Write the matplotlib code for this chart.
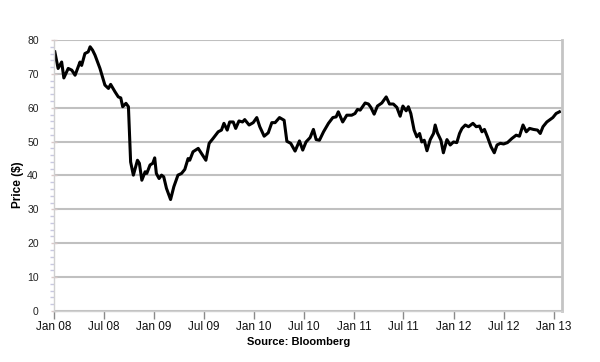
import matplotlib
matplotlib.use('Agg')
import matplotlib.pyplot as plt
import matplotlib.dates as mdates
from matplotlib.ticker import MultipleLocator
import pandas as pd

# weekly-ish closing prices
dates = ['2008-01-04', '2008-01-16', '2008-01-29', '2008-02-06', '2008-02-22', '2008-03-06',
	'2008-03-18', '2008-04-05', '2008-04-11', '2008-04-23', '2008-05-05', '2008-05-12',
	'2008-05-21', '2008-05-30', '2008-06-17', '2008-07-05', '2008-07-18', '2008-07-26',
	'2008-08-11', '2008-08-23', '2008-09-01', '2008-09-08', '2008-09-20', '2008-09-29',
	'2008-10-07', '2008-10-17', '2008-11-01', '2008-11-08', '2008-11-17', '2008-11-29',
	'2008-12-05', '2008-12-17', '2008-12-27', '2009-01-03', '2009-01-09', '2009-01-19',
	'2009-01-28', '2009-02-05', '2009-02-15', '2009-03-02', '2009-03-14', '2009-03-29',
	'2009-04-11', '2009-04-23', '2009-05-05', '2009-05-11', '2009-05-23', '2009-06-11',
	'2009-06-23', '2009-07-09', '2009-07-21', '2009-08-04', '2009-08-23', '2009-09-04',
	'2009-09-13', '2009-09-25', '2009-10-04', '2009-10-17', '2009-10-26', '2009-11-07',
	'2009-11-20', '2009-11-28', '2009-12-14', '2009-12-29', '2010-01-11', '2010-01-22',
	'2010-02-07', '2010-02-22', '2010-03-07', '2010-03-19', '2010-04-04', '2010-04-21',
	'2010-05-01', '2010-05-15', '2010-05-31', '2010-06-16', '2010-06-28', '2010-07-10',
	'2010-07-25', '2010-08-06', '2010-08-16', '2010-08-28', '2010-09-12', '2010-09-30',
	'2010-10-16', '2010-10-28', '2010-11-05', '2010-11-21', '2010-12-06', '2010-12-24',
	'2011-01-05', '2011-01-14', '2011-01-24', '2011-02-11', '2011-02-23', '2011-03-04',
	'2011-03-16', '2011-03-28', '2011-04-13', '2011-04-29', '2011-05-11', '2011-05-25',
	'2011-06-07', '2011-06-19', '2011-06-29', '2011-07-11', '2011-07-19', '2011-07-28',
	'2011-08-09', '2011-08-19', '2011-08-29', '2011-09-06', '2011-09-15', '2011-09-25',
	'2011-10-07', '2011-10-19', '2011-10-25', '2011-11-02', '2011-11-15', '2011-11-24',
	'2011-12-07', '2011-12-19', '2011-12-31', '2012-01-12', '2012-01-22', '2012-01-31',
	'2012-02-12', '2012-02-24', '2012-03-11', '2012-03-23', '2012-04-04', '2012-04-13',
	'2012-04-22', '2012-05-03', '2012-05-16', '2012-05-28', '2012-06-07', '2012-06-19',
	'2012-07-01', '2012-07-15', '2012-07-31', '2012-08-16', '2012-08-28', '2012-09-10',
	'2012-09-22', '2012-10-04', '2012-10-18', '2012-11-02', '2012-11-12', '2012-11-22',
	'2012-12-06', '2012-12-18', '2012-12-28', '2013-01-09', '2013-01-21']

prices = [76.5, 71.6, 73.5, 68.8, 71.6, 71.1,
	69.6, 73.5, 72.5, 76.0, 76.5, 78.0,
	77.0, 75.5, 71.6, 66.7, 65.7, 66.9,
	64.7, 63.2, 62.9, 60.3, 61.3, 60.3,
	44.0, 40.1, 44.5, 43.6, 38.6, 41.1,
	40.6, 43.1, 43.6, 45.2, 40.6, 39.1,
	40.1, 39.6, 36.2, 32.9, 36.7, 40.1,
	40.6, 41.8, 45.0, 44.5, 47.0, 48.0,
	46.5, 44.5, 49.5, 50.9, 52.9, 53.4,
	55.4, 53.4, 55.8, 55.8, 53.9, 56.1,
	55.8, 56.5, 54.9, 55.6, 57.1, 54.4,
	51.6, 52.6, 55.6, 55.6, 57.1, 56.3,
	50.1, 49.5, 47.2, 50.2, 47.5, 49.9,
	51.2, 53.6, 50.6, 50.4, 52.9, 55.4,
	57.1, 57.3, 58.8, 55.8, 57.8, 57.8,
	58.3, 59.5, 59.3, 61.4, 61.1, 60.1,
	58.1, 60.5, 61.4, 63.2, 61.1, 61.1,
	60.1, 57.5, 60.5, 59.1, 60.3, 58.3,
	53.4, 51.4, 52.4, 49.9, 50.4, 47.3,
	50.6, 52.4, 54.9, 52.6, 50.4, 46.7,
	50.6, 49.0, 49.9, 49.7, 52.4, 53.9,
	54.9, 54.4, 55.4, 54.4, 54.6, 52.9,
	53.6, 51.4, 48.5, 46.7, 49.0, 49.5,
	49.3, 49.7, 50.9, 51.9, 51.6, 54.9,
	52.9, 53.9, 53.6, 53.4, 52.4, 54.4,
	55.8, 56.5, 57.1, 58.3, 58.8]

x_start = '2008-01-01'
x_end = '2013-01-29'

plt.rcParams['font.family'] = ['Liberation Sans', 'DejaVu Sans']

fig = plt.figure(figsize=(6, 3.62), dpi=100)
ax = fig.add_axes([0.09, 0.141, 0.846, 0.7485])

ax.plot(pd.to_datetime(dates), prices, color='black', lw=2.2, solid_joinstyle='round')

ax.set_xlim(pd.Timestamp(x_start), pd.Timestamp(x_end))
ax.set_ylim(0, 80)

ax.yaxis.set_major_locator(MultipleLocator(10))
ax.yaxis.set_minor_locator(MultipleLocator(2))
ax.grid(axis='y', which='major', color='#c0c0c0', lw=1.5)
ax.set_axisbelow(True)

ax.xaxis.set_major_locator(mdates.MonthLocator(bymonth=[1, 7]))
ax.xaxis.set_major_formatter(mdates.DateFormatter('%b %y'))

ax.tick_params(axis='x', which='major', direction='out', length=6, width=1,
	color='#8a8a8a', labelsize=8.5, pad=1.5, labelcolor='#111111')
ax.tick_params(axis='y', which='major', length=4, width=1, color='#d8c8c8',
	direction='inout', labelsize=7.5, pad=9, labelcolor='#222222')
ax.tick_params(axis='y', which='minor', length=3, width=1, color='#c8c8e0',
	direction='out')

ax.spines['top'].set_visible(False)
ax.spines['left'].set_color('#d0d0d0')
ax.spines['left'].set_linewidth(1)
ax.spines['bottom'].set_color('#d0d0d0')
ax.spines['bottom'].set_linewidth(1)
ax.spines['right'].set_color('#c4c4c4')
ax.spines['right'].set_linewidth(2)

fig.text(0.03, 0.49, 'Price ($)', rotation=90, fontsize=8.5, fontweight='bold',
	ha='center', va='center')
fig.text(0.497, 0.055, 'Source: Bloomberg', fontsize=8, fontweight='bold',
	ha='center', va='center')

plt.savefig('out.png', dpi=100)
